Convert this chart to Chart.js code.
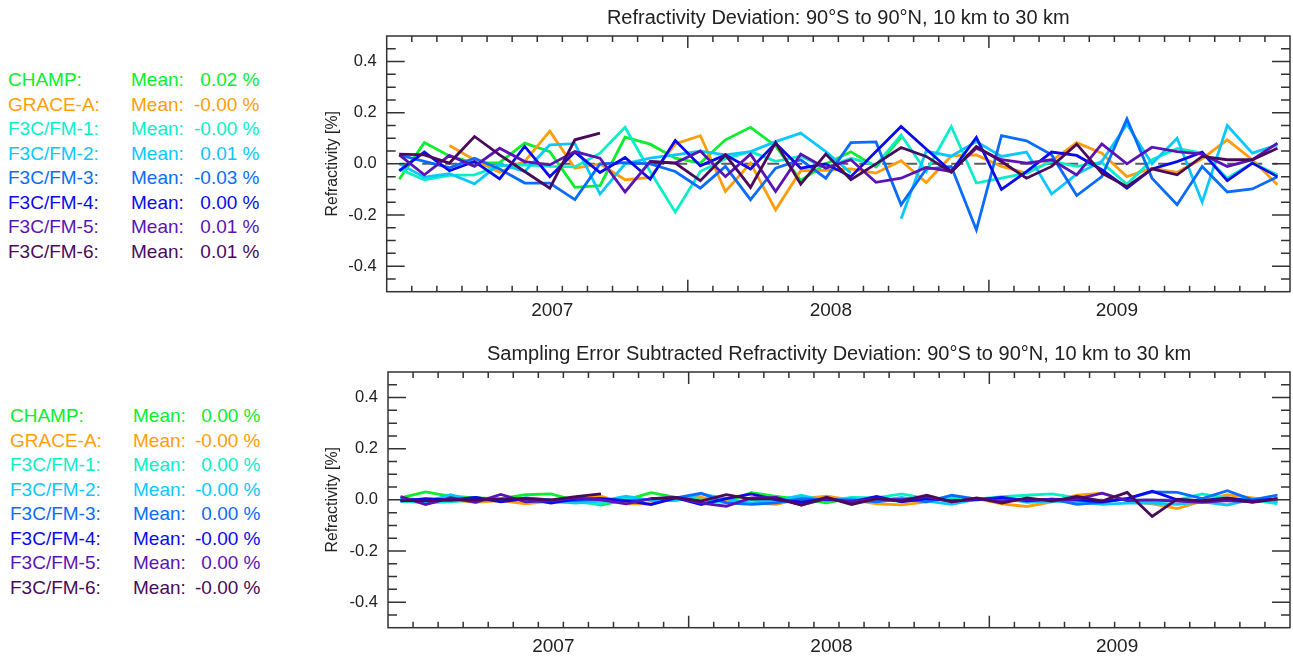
<!DOCTYPE html>
<html lang="en">
<head>
<meta charset="UTF-8">
<script src="https://cdn.jsdelivr.net/npm/chart.js"></script>
<title>Refractivity Deviation</title>
<style>
  body { margin: 0; width: 1293px; height: 659px; background: #fff; position: relative; overflow: hidden;
         font-family: "Liberation Sans", Arial, sans-serif; }
  .legend { position: absolute; left: 0; top: 0; font-size: 19px; }
  .legend div { position: absolute; white-space: pre; line-height: 20px; }
  canvas { position: absolute; left: 300px; }
</style>
</head>
<body>
<div class="legend" id="legTop"></div>
<div class="legend" id="legBot"></div>
<canvas id="topChart" style="top:0px"></canvas>
<canvas id="botChart" style="top:336px"></canvas>
<script>
// satellites, in plot order (last one drawn on top)
const names = ['CHAMP:', 'GRACE-A:', 'F3C/FM-1:', 'F3C/FM-2:', 'F3C/FM-3:', 'F3C/FM-4:', 'F3C/FM-5:', 'F3C/FM-6:'];
const colors = ['#0aee2c', '#ff9e0a', '#0aeec8', '#0ac8ff', '#0a6cff', '#0a0aee', '#5a14b4', '#4a0a5c'];
const meansTop = ['0.02', '-0.00', '-0.00', '0.01', '-0.03', '0.00', '0.01', '0.01'];
const meansBot = ['0.00', '-0.00', '0.00', '-0.00', '0.00', '-0.00', '0.00', '-0.00'];

// monthly values, 36 months
const champTop = [-0.06, 0.083, 0.031, 0.003, 0.005, 0.081, 0.048, -0.092, -0.085, 0.104, 0.077, 0.022,
  0.003, 0.094, 0.143, 0.07, -0.065, 0.0, 0.047, -0.012, 0.104, null, null, null,
  null, null, null, null, null, null, null, null, null, null, null, null];
const graceTop = [null, null, 0.072, 0.015, -0.033, 0.01, 0.128, -0.017, 0.0, -0.062, -0.053, 0.078,
  0.11, -0.108, 0.003, -0.18, -0.027, -0.025, -0.02, -0.036, 0.012, -0.073, 0.031, 0.035,
  -0.01, -0.036, 0.012, 0.083, 0.042, -0.05, -0.017, -0.033, 0.02, 0.094, 0.016, -0.082];
const fm1Top = [-0.02, -0.062, -0.045, -0.043, -0.008, -0.004, -0.01, -0.012, 0.042, 0.143, -0.03, -0.189,
  -0.03, 0.02, 0.048, 0.01, 0.03, -0.015, 0.022, -0.005, 0.113, -0.03, 0.146, -0.075,
  -0.056, -0.036, 0.01, -0.01, 0.005, -0.08, 0.016, 0.06, 0.042, -0.056, 0.003, -0.043];
const fm2Top = [0.0, -0.052, -0.038, -0.078, 0.0, -0.03, 0.074, 0.079, -0.118, 0.0, 0.022, 0.035,
  0.05, 0.035, 0.048, 0.087, 0.12, 0.048, -0.036, null, -0.215, 0.05, 0.03, 0.087,
  0.029, 0.046, -0.118, -0.04, 0.01, 0.155, 0.0, 0.1, -0.15, 0.15, 0.042, 0.074];
const fm3Top = [0.035, 0.01, -0.015, 0.022, -0.02, -0.075, -0.075, -0.14, 0.0, 0.005, 0.0, -0.03,
  -0.095, -0.01, -0.14, -0.017, 0.016, -0.056, 0.083, 0.086, -0.16, -0.02, -0.01, -0.258,
  0.11, 0.09, 0.035, -0.124, -0.05, 0.176, -0.056, -0.16, -0.01, -0.11, -0.098, -0.05];
const fm4Top = [-0.027, 0.046, -0.027, 0.009, -0.059, 0.068, -0.05, 0.046, -0.034, 0.025, -0.06, 0.091,
  -0.008, 0.035, -0.02, 0.081, -0.017, 0.0, -0.05, 0.048, 0.146, 0.058, -0.03, 0.103,
  -0.1, -0.03, 0.046, 0.033, -0.023, -0.095, -0.02, 0.009, 0.046, -0.066, 0.003, -0.05];
const fm5Top = [0.035, -0.043, 0.033, -0.01, 0.061, 0.009, -0.004, 0.048, 0.022, -0.11, 0.009, 0.003,
  0.05, -0.05, 0.038, -0.108, 0.038, -0.017, 0.016, -0.072, -0.056, -0.014, -0.03, 0.061,
  0.016, 0.003, 0.016, -0.043, 0.078, 0.0, 0.065, 0.048, 0.038, -0.01, 0.016, 0.081];
const fm6Top = [0.038, 0.035, 0.003, 0.107, 0.035, -0.03, -0.095, 0.094, 0.12, null, 0.009, 0.003,
  -0.066, 0.035, -0.092, 0.083, -0.079, 0.038, -0.062, 0.0, 0.064, 0.029, -0.033, 0.068,
  0.009, -0.056, -0.01, 0.077, -0.036, -0.089, -0.02, -0.043, 0.029, 0.016, 0.016, 0.061];

const champBot = [0.008, 0.031, 0.014, 0.008, 0.005, 0.02, 0.023, -0.003, -0.02, 0.0, 0.028, 0.01,
  -0.003, -0.008, 0.028, 0.014, 0.002, -0.012, 0.008, 0.0, -0.005, null, null, null,
  null, null, null, null, null, null, null, null, null, null, null, null];
const graceBot = [null, null, 0.0, -0.01, -0.003, -0.016, -0.005, 0.01, 0.014, -0.016, -0.016, 0.008,
  0.01, -0.005, -0.013, -0.018, 0.005, 0.014, 0.0, -0.016, -0.02, -0.008, 0.01, 0.005,
  -0.016, -0.026, -0.008, 0.018, 0.026, -0.005, -0.016, -0.034, -0.005, 0.02, 0.008, -0.005];
const fm1Bot = [-0.005, -0.012, -0.008, 0.0, 0.003, -0.003, -0.008, -0.01, -0.016, 0.008, 0.0, 0.005,
  0.0, -0.012, 0.0, -0.003, 0.018, -0.005, 0.01, 0.008, 0.023, 0.005, 0.008, 0.003,
  0.013, 0.018, 0.023, 0.008, -0.005, 0.005, -0.01, 0.0, 0.023, 0.005, 0.0, -0.016];
const fm2Bot = [0.0, -0.008, 0.02, -0.005, 0.0, 0.003, -0.005, -0.013, -0.005, 0.014, -0.003, -0.003,
  0.023, 0.005, -0.013, 0.0, 0.014, -0.003, 0.005, -0.005, 0.01, -0.005, -0.018, 0.003,
  0.008, -0.01, -0.005, -0.008, -0.018, -0.013, -0.013, -0.018, -0.008, -0.02, 0.003, -0.008];
const fm3Bot = [0.005, 0.0, -0.003, 0.01, -0.005, 0.008, 0.0, -0.003, 0.005, -0.005, 0.003, 0.008,
  0.026, -0.012, -0.018, -0.012, 0.005, 0.0, 0.0, -0.008, 0.003, -0.008, 0.018, 0.003,
  0.008, -0.005, 0.003, -0.018, -0.01, 0.005, 0.031, 0.029, 0.005, 0.036, 0.0, 0.018];
const fm4Bot = [-0.005, 0.005, 0.0, 0.01, -0.008, 0.005, -0.013, 0.003, 0.005, -0.003, -0.018, 0.008,
  -0.018, 0.005, 0.023, 0.0, -0.008, 0.003, -0.008, 0.013, -0.008, 0.005, -0.003, 0.0,
  0.01, -0.003, 0.003, 0.0, -0.008, 0.005, 0.034, 0.0, -0.003, 0.008, -0.005, 0.005];
const fm5Bot = [0.013, -0.018, 0.008, -0.01, 0.021, -0.008, -0.003, 0.008, 0.0, -0.016, 0.005, 0.01,
  -0.013, -0.025, 0.008, 0.01, -0.02, 0.005, -0.008, 0.005, 0.0, 0.013, -0.008, 0.005,
  -0.005, 0.003, 0.0, 0.003, 0.026, -0.003, 0.0, -0.005, -0.01, -0.003, -0.008, 0.003];
const fm6Bot = [-0.003, -0.003, 0.0, 0.0, 0.003, 0.005, 0.0, 0.013, 0.023, null, 0.005, 0.01,
  -0.005, 0.02, 0.003, 0.005, -0.02, 0.01, -0.018, 0.005, -0.005, 0.018, -0.008, 0.008,
  -0.013, 0.008, -0.005, 0.013, -0.005, 0.029, -0.065, 0.003, -0.005, 0.005, -0.01, 0.005];

// axis: x counts months from the left edge of the plot (0..36)
const xMin = 0, xMax = 36;
const yearLabels = ['2007', '2008', '2009'];
const yearLabelAt = [6.6, 17.7, 29.1];
const yearTicks = [12, 24];
const yMajor = [-0.4, -0.2, 0.0, 0.2, 0.4];
const yMinor = [-0.45, -0.35, -0.3, -0.25, -0.15, -0.1, -0.05, 0.05, 0.1, 0.15, 0.25, 0.3, 0.35, 0.45];

const topSeries = [champTop, graceTop, fm1Top, fm2Top, fm3Top, fm4Top, fm5Top, fm6Top];
const botSeries = [champBot, graceBot, fm1Bot, fm2Bot, fm3Bot, fm4Bot, fm5Bot, fm6Bot];

const FONT = '"Liberation Sans", Arial, sans-serif';
const INK = '#222';

function buildLegend(el, means, top0, left0, right0) {
  names.forEach((n, k) => {
    const y = top0 + k * 24.5;
    const a = document.createElement('div');
    a.textContent = n;
    a.style.cssText = `left:${left0}px;top:${y}px;color:${colors[k]}`;
    const b = document.createElement('div');
    b.textContent = 'Mean:';
    b.style.cssText = `left:${left0 + 123}px;top:${y}px;color:${colors[k]}`;
    const c = document.createElement('div');
    c.textContent = means[k] + ' %';
    c.style.cssText = `right:${-right0}px;top:${y}px;color:${colors[k]};text-align:right`;
    el.appendChild(a);
    el.appendChild(b);
    el.appendChild(c);
  });
}
buildLegend(document.getElementById('legTop'), meansTop, 70, 8, 259.5);
buildLegend(document.getElementById('legBot'), meansBot, 406, 10, 260.5);

// IDL-like frame with inward ticks on all four sides
const framePlugin = {
  id: 'frame',
  afterDraw(chart) {
    const { ctx, chartArea: a, scales: { x, y } } = chart;
    ctx.save();
    ctx.strokeStyle = '#333';
    ctx.lineWidth = 1.5;
    ctx.strokeRect(a.left, a.top, a.right - a.left, a.bottom - a.top);
    ctx.beginPath();
    const hTick = (v, len) => {
      const p = y.getPixelForValue(v);
      ctx.moveTo(a.left, p); ctx.lineTo(a.left + len, p);
      ctx.moveTo(a.right, p); ctx.lineTo(a.right - len, p);
    };
    const vTick = (v, len) => {
      const p = x.getPixelForValue(v);
      ctx.moveTo(p, a.bottom); ctx.lineTo(p, a.bottom - len);
      ctx.moveTo(p, a.top); ctx.lineTo(p, a.top + len);
    };
    yMajor.forEach(v => hTick(v, 18));
    yMinor.forEach(v => hTick(v, 9));
    for (let m = xMin + 1; m < xMax; m++) vTick(m, yearTicks.includes(m) ? 12 : 6);
    ctx.stroke();
    ctx.restore();
  }
};

function makeChart(id, title, series, leftWidth) {
  const canvas = document.getElementById(id);
  canvas.width = 993;
  canvas.height = 330;
  const datasets = series.map((vals, k) => ({
    data: vals.map((v, i) => ({ x: i + 0.5, y: v })),
    borderColor: colors[k],
    borderWidth: 2.8,
    pointRadius: 0,
    tension: 0,
    order: names.length - k
  }));
  // dashed zero reference line
  datasets.push({
    data: [{ x: 0.5, y: 0 }, { x: 35.5, y: 0 }],
    borderColor: '#5c5c5c',
    borderWidth: 2,
    borderDash: [12, 11],
    pointRadius: 0,
    order: 50
  });
  return new Chart(canvas.getContext('2d'), {
    type: 'line',
    data: { datasets },
    options: {
      responsive: false,
      animation: false,
      layout: { padding: { left: 0, right: 3, top: 0, bottom: 0 } },
      plugins: {
        legend: { display: false },
        tooltip: { enabled: false },
        title: {
          display: true, text: title, fullSize: false, color: INK,
          font: { family: FONT, size: 20, weight: 'normal', lineHeight: 1.2 },
          padding: { top: 6, bottom: 6 }
        }
      },
      scales: {
        x: {
          type: 'linear', min: xMin, max: xMax,
          grid: { display: false, drawTicks: false },
          border: { display: false },
          afterFit: s => { s.height = 38.3; },
          afterBuildTicks: s => { s.ticks = yearLabelAt.map(v => ({ value: v })); },
          ticks: {
            autoSkip: false, maxRotation: 0, padding: 8, color: INK,
            font: { family: FONT, size: 19 },
            callback: (v, i) => yearLabels[i]
          }
        },
        y: {
          min: -0.5, max: 0.5,
          grid: { display: false, drawTicks: false },
          border: { display: false },
          afterFit: s => { s.width = leftWidth; },
          afterBuildTicks: s => { s.ticks = yMajor.map(v => ({ value: v })); },
          ticks: {
            padding: 10, color: INK,
            font: { family: FONT, size: 16.5 },
            callback: v => v.toFixed(1)
          },
          title: {
            display: true, text: 'Refractivity [%]', color: INK,
            font: { family: FONT, size: 15.8 },
            padding: { top: 23.5, bottom: 0 }
          }
        }
      }
    },
    plugins: [framePlugin]
  });
}

makeChart('topChart', 'Refractivity Deviation: 90°S to 90°N, 10 km to 30 km', topSeries, 86.7);
makeChart('botChart', 'Sampling Error Subtracted Refractivity Deviation: 90°S to 90°N, 10 km to 30 km', botSeries, 88);
</script>
</body>
</html>
